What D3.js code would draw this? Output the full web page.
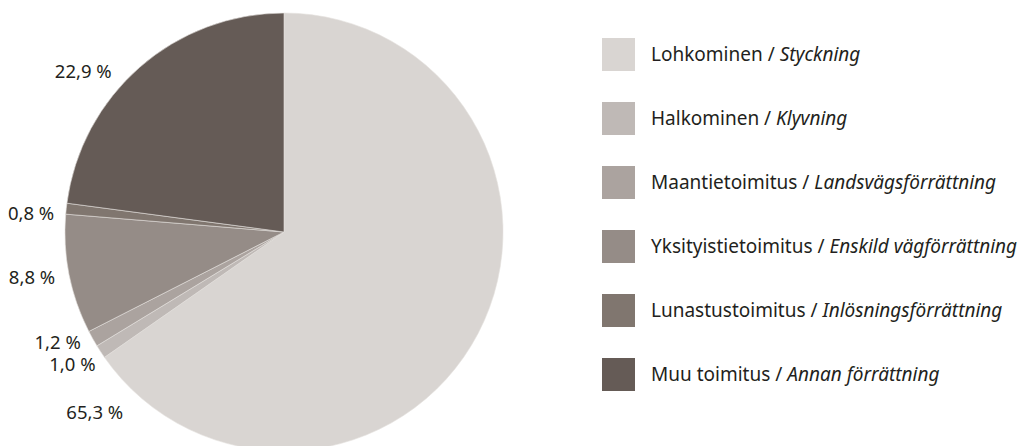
<!DOCTYPE html>
<html>
<head>
<meta charset="utf-8">
<script src="https://cdn.jsdelivr.net/npm/d3@7"></script>
<style>
  body { margin: 0; background: #fff; }
  text { font-family: "Noto Sans", sans-serif; fill: #231f20; }
</style>
</head>
<body>
<div id="chart"></div>
<script>
// data
var categoriesFi = ['Lohkominen', 'Halkominen', 'Maantietoimitus', 'Yksityistietoimitus', 'Lunastustoimitus', 'Muu toimitus'];
var categoriesSv = ['Styckning', 'Klyvning', 'Landsvägsförrättning', 'Enskild vägförrättning', 'Inlösningsförrättning', 'Annan förrättning'];
var shares = [65.3, 1.0, 1.2, 8.8, 0.8, 22.9];
var colors = ['#d9d5d2', '#bfb9b6', '#aba39f', '#958c87', '#80766f', '#655b56'];

var width = 1027, height = 446;
var cx = 284, cy = 232, radius = 219;

var svg = d3.select('#chart').append('svg')
  .attr('width', width)
  .attr('height', height);

var pie = d3.pie().sort(null).value(function (d) { return d; });
var arcs = pie(shares);
var arc = d3.arc().innerRadius(0).outerRadius(radius);

var g = svg.append('g').attr('transform', 'translate(' + cx + ',' + cy + ')');

g.selectAll('path').data(arcs).enter().append('path')
  .attr('d', arc)
  .style('fill', function (d, i) { return colors[i]; })
  .style('stroke', '#e4e0dd')
  .style('stroke-width', 0.6);

// labels: anchored at the rim point of each slice, pushed to the left
// (the big slices get their own spots like in the original)
var fmt = function (v) { return v.toFixed(1).replace('.', ',') + ' %'; };
var labelNudge = [[-355, 78], [-5, 12], [-12, 3], [-14, 2], [-12, 4], [-28, 3]];

g.selectAll('text.pct').data(arcs).enter().append('text')
  .attr('class', 'pct')
  .attr('x', function (d, i) {
    var a = (d.startAngle + d.endAngle) / 2;
    return radius * Math.sin(a) + labelNudge[i][0];
  })
  .attr('y', function (d, i) {
    var a = (d.startAngle + d.endAngle) / 2;
    return -radius * Math.cos(a) + labelNudge[i][1];
  })
  .attr('text-anchor', 'end')
  .attr('dominant-baseline', 'central')
  .style('font-size', '18.5px')
  .text(function (d) { return fmt(d.data); });

// legend
var legend = svg.append('g').attr('transform', 'translate(602, 38)');
var row = legend.selectAll('g').data(categoriesFi).enter().append('g')
  .attr('transform', function (d, i) { return 'translate(0,' + (i * 64) + ')'; });

row.append('rect')
  .attr('width', 33).attr('height', 33)
  .style('fill', function (d, i) { return colors[i]; });

var lt = row.append('text')
  .attr('x', 49).attr('y', 16)
  .attr('dominant-baseline', 'central')
  .style('font-size', '19px');
lt.append('tspan').text(function (d) { return d + ' / '; });
lt.append('tspan').style('font-style', 'italic').text(function (d, i) { return categoriesSv[i]; });
</script>
</body>
</html>
